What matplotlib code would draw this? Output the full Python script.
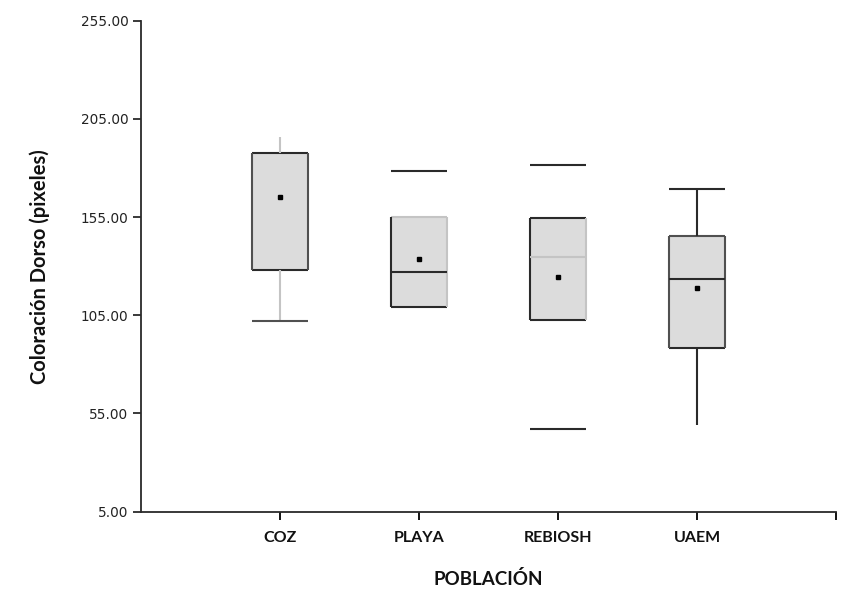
import matplotlib
matplotlib.use("Agg")
import matplotlib.pyplot as plt
from matplotlib.patches import Rectangle

categories = ['COZ', 'PLAYA', 'REBIOSH', 'UAEM']
whislo = [102.1, 109.4, 47.0, 49.1]
q1 = [128.1, 109.4, 102.5, 88.5]
med = [128.1, 126.9, 134.8, 123.5]
q3 = [187.8, 155.2, 154.4, 145.5]
whishi = [195.8, 178.6, 181.7, 169.3]
means = [165.1, 133.5, 124.5, 119.0]
yticks = [5, 55, 105, 155, 205, 255]

D = '#2a2a2a'
L = '#c4c4c4'
N = None
# element colours per box: top, bottom, left, right, median, whisker_lo, whisker_hi, cap_lo, cap_hi
styles = [
    dict(top=D, bottom=D, left='#505050', right='#505050', median=N, wlo=L, whi=L, caplo='#505050', caphi=N),
    dict(top=L, bottom=D, left=D, right=L, median=D, wlo=N, whi=N, caplo=N, caphi=D),
    dict(top=D, bottom=D, left=D, right=L, median=L, wlo=N, whi=N, caplo=D, caphi=D),
    dict(top='#505050', bottom=D, left='#505050', right='#505050', median=D, wlo=D, whi=D, caplo=N, caphi=D),
]

fig = plt.figure(figsize=(8.6, 6.07), dpi=100)
ax = fig.add_axes([0.164, 0.157, 0.808, 0.809])

w = 0.4
lw = 1.5
for i, cat in enumerate(categories):
    x = i + 1
    s = styles[i]
    ax.add_patch(Rectangle((x - w / 2, q1[i]), w, q3[i] - q1[i], facecolor='#dcdcdc',
                           edgecolor='none', zorder=2))
    def seg(xs, ys, c):
        if c is not None:
            ax.plot(xs, ys, color=c, lw=lw, solid_capstyle='butt', zorder=3)
    seg([x - w / 2, x + w / 2], [q3[i], q3[i]], s['top'])
    seg([x - w / 2, x + w / 2], [q1[i], q1[i]], s['bottom'])
    seg([x - w / 2, x - w / 2], [q1[i], q3[i]], s['left'])
    seg([x + w / 2, x + w / 2], [q1[i], q3[i]], s['right'])
    seg([x - w / 2, x + w / 2], [med[i], med[i]], s['median'])
    seg([x, x], [whislo[i], q1[i]], s['wlo'])
    seg([x, x], [q3[i], whishi[i]], s['whi'])
    seg([x - w / 2, x + w / 2], [whislo[i], whislo[i]], s['caplo'])
    seg([x - w / 2, x + w / 2], [whishi[i], whishi[i]], s['caphi'])
    ax.plot([x], [means[i]], marker='s', ms=3, color='black', zorder=4)

ax.set_xlim(0, 5)
ax.set_ylim(5, 255)
ax.set_yticks(yticks)
ax.set_yticklabels([f'{v:.2f}' for v in yticks], fontsize=9.8, family='DejaVu Sans', color='#222222')
ax.set_xticks([1, 2, 3, 4, 5])
ax.set_xticklabels(categories + [''], fontsize=11.5, family='Lato', fontweight='bold', color='#111111')
tick_cols = [D, '#d0d0d0', '#d0d0d0', D, D]
for t, c in zip(ax.xaxis.get_major_ticks(), tick_cols):
    t.tick1line.set_color(c)
ax.tick_params(axis='x', length=6, width=1.3, pad=8)
ax.tick_params(axis='y', length=6, width=1.3, color=D, pad=3)

for sp in ['top', 'right']:
    ax.spines[sp].set_visible(False)
for sp in ['left', 'bottom']:
    ax.spines[sp].set_color(D)
    ax.spines[sp].set_linewidth(1.3)

ax.set_ylabel('Coloración Dorso (pixeles)', fontsize=14.5, family='Lato', fontweight='bold',
              labelpad=22, color='#111111')
ax.set_xlabel('POBLACIÓN', fontsize=13.5, family='Lato', fontweight='bold', labelpad=18,
              color='#111111')

fig.savefig('out.png', dpi=100)
